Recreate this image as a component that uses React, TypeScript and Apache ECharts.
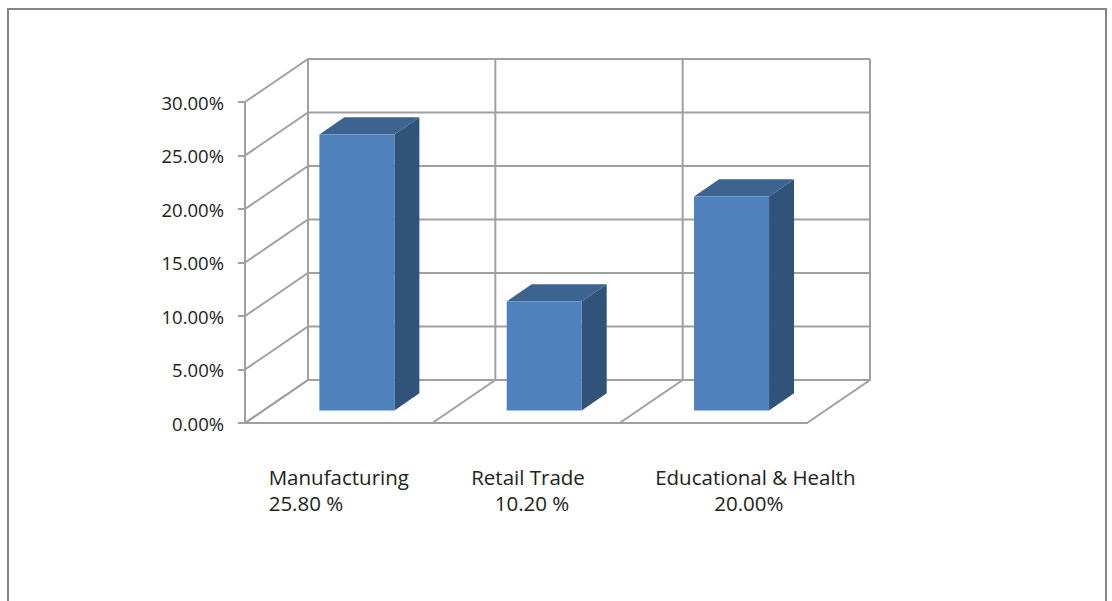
import React, { useEffect, useRef } from "react";
import * as echarts from "echarts";

const categories = ["Manufacturing", "Retail Trade", "Educational & Health"];
const values = [25.8, 10.2, 20.0];
const valueLabels = ["25.80 %", "10.20 %", "20.00%"];
const yTicks = [0, 5, 10, 15, 20, 25, 30];

const labelAlign = ["left", "center", "center"];
const nameShift = [-70, 2, 42];
const valueShift = [-70, 6, 35.5];

const WALL_DX = 63;
const WALL_DY = -43;
const BAR_SHIFT_X = 18.2;
const BAR_SHIFT_Y = -12.4;
const BAR_W = 75;
const BAR_DX = 25;
const BAR_DY = -17.3;
const GRID_COLOR = "#a0a0a0";
const TEXT_COLOR = "#222222";
const FONT = "'Open Sans', sans-serif";

const lineStyle = { stroke: GRID_COLOR, lineWidth: 2, fill: "none" };

function renderWallLevel(_: any, api: any) {
  const band = api.size([1, 0])[0];
  const [cx, y] = api.coord([0, api.value(1)]);
  const x0 = cx - band / 2;
  return {
    type: "polyline",
    shape: {
      points: [
        [x0, y],
        [x0 + WALL_DX, y + WALL_DY],
        [x0 + WALL_DX + band * categories.length, y + WALL_DY],
      ],
    },
    style: lineStyle,
  };
}

function renderDivider(_: any, api: any) {
  const band = api.size([1, 0])[0];
  const [cx, y0] = api.coord([0, 0]);
  const top = api.coord([0, yTicks[yTicks.length - 1]])[1];
  const x = cx - band / 2 + band * api.value(0);
  return {
    type: "polyline",
    shape: {
      points: [
        [x, y0],
        [x + WALL_DX, y0 + WALL_DY],
        [x + WALL_DX, top + WALL_DY],
      ],
    },
    style: lineStyle,
  };
}

function renderBar(_: any, api: any) {
  const [cx, yTop] = api.coord([api.value(0), api.value(1)]);
  const y0 = api.coord([api.value(0), 0])[1];
  const l = cx + BAR_SHIFT_X - BAR_W / 2;
  const r = l + BAR_W;
  const t = yTop + BAR_SHIFT_Y;
  const b = y0 + BAR_SHIFT_Y;
  return {
    type: "group",
    children: [
      {
        type: "polygon",
        shape: { points: [[r, t], [r + BAR_DX, t + BAR_DY], [r + BAR_DX, b + BAR_DY], [r, b]] },
        style: { fill: "#325379" },
      },
      {
        type: "polygon",
        shape: { points: [[l, t], [l + BAR_DX, t + BAR_DY], [r + BAR_DX, t + BAR_DY], [r, t]] },
        style: { fill: "#3d6391" },
      },
      {
        type: "rect",
        shape: { x: l, y: t, width: BAR_W, height: b - t },
        style: { fill: "#4f81bd" },
      },
    ],
  };
}

function renderLabel(params: any, api: any) {
  const i = params.dataIndex;
  const [cx, y0] = api.coord([i, 0]);
  const textStyle = {
    align: labelAlign[i],
    verticalAlign: "middle",
    fontFamily: FONT,
    fontSize: 20.5,
    fill: TEXT_COLOR,
  };
  return {
    type: "group",
    children: [
      {
        type: "text",
        x: cx + nameShift[i],
        y: y0 + 53.5,
        style: { ...textStyle, text: categories[i] },
      },
      {
        type: "text",
        x: cx + valueShift[i],
        y: y0 + 79.5,
        style: { ...textStyle, text: valueLabels[i] },
      },
    ],
  };
}

export default function App() {
  const ref = useRef<HTMLDivElement>(null);
  useEffect(() => {
    const chart = echarts.init(ref.current!, undefined, { renderer: "svg" });
    chart.setOption({
      animation: false,
      backgroundColor: "#ffffff",
      grid: { left: 245, top: 102, width: 562, height: 321 },
      xAxis: {
        type: "category",
        data: categories,
        axisLine: { show: true, lineStyle: { color: GRID_COLOR, width: 2 } },
        axisTick: { show: false },
        axisLabel: { show: false },
        splitLine: { show: false },
      },
      yAxis: {
        type: "value",
        min: 0,
        max: 30,
        interval: 5,
        axisLine: { show: true, lineStyle: { color: GRID_COLOR, width: 2 } },
        axisTick: { show: true, length: 7, lineStyle: { color: GRID_COLOR, width: 2 } },
        axisLabel: {
          margin: 21,
          fontFamily: FONT,
          fontSize: 18.5,
          color: TEXT_COLOR,
          formatter: (v: number) => v.toFixed(2) + "%",
        },
        splitLine: { show: false },
      },
      graphic: [
        {
          type: "polyline",
          shape: { points: [[8, 601], [8, 9], [1106, 9], [1106, 601]] },
          style: { stroke: "#868686", lineWidth: 2, fill: "none" },
          silent: true,
        },
      ],
      series: [
        {
          type: "custom",
          coordinateSystem: "cartesian2d",
          renderItem: renderWallLevel,
          data: yTicks.map((t) => [0, t]),
          clip: false,
          silent: true,
          z: 1,
        },
        {
          type: "custom",
          coordinateSystem: "cartesian2d",
          renderItem: renderDivider,
          data: [...categories.map((_, i) => i), categories.length].map((i) => [i, 0]),
          clip: false,
          silent: true,
          z: 1,
        },
        {
          type: "custom",
          coordinateSystem: "cartesian2d",
          renderItem: renderBar,
          data: values.map((v, i) => [i, v]),
          clip: false,
          silent: true,
          z: 3,
        },
        {
          type: "custom",
          coordinateSystem: "cartesian2d",
          renderItem: renderLabel,
          data: values.map((v, i) => [i, v]),
          clip: false,
          silent: true,
          z: 4,
        },
      ],
    });
    return () => chart.dispose();
  }, []);
  return (
    <div
      ref={ref}
      style={{ position: "fixed", left: 0, top: 0, width: 1112, height: 601 }}
    />
  );
}
